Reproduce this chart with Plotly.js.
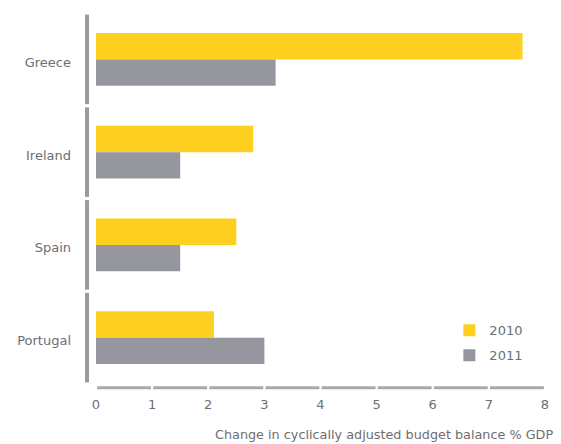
<!DOCTYPE html>
<html>
<head>
<meta charset="utf-8">
<script src="https://cdn.plot.ly/plotly-3.0.1.min.js"></script>
<style>html,body{margin:0;padding:0;background:#fff;}#chart{width:561px;height:444px;}</style>
</head>
<body>
<div id="chart"></div>
<script>
var countries = ["Greece", "Ireland", "Spain", "Portugal"];
var values2010 = [7.6, 2.8, 2.5, 2.1];
var values2011 = [3.2, 1.5, 1.5, 3.0];
var xTicks = [0, 1, 2, 3, 4, 5, 6, 7, 8];
var seriesNames = ["2010", "2011"];
var xTitle = "Change in cyclically adjusted budget balance % GDP";

var textColor = "#6d6e71";
var axisColor = "#9a9ba1";
var font = "'DejaVu Sans', sans-serif";

var traces = [
  {type: "bar", orientation: "h", name: seriesNames[0], y: countries, x: values2010,
   marker: {color: "#fdd01f"}, legendgroup: "a", hoverinfo: "x"},
  {type: "bar", orientation: "h", name: seriesNames[1], y: countries, x: values2011,
   marker: {color: "#96979e"}, legendgroup: "b", hoverinfo: "x"}
];

var shapes = [];
// segmented vertical axis, one segment per category
countries.forEach(function(c, i) {
  shapes.push({type: "line", xref: "paper", yref: "y", x0: -0.02, x1: -0.02,
    y0: i - 0.5 + 0.017, y1: i + 0.5 - 0.017, line: {color: axisColor, width: 4}});
});
// segmented horizontal axis, one segment per unit
for (var k = 0; k < xTicks.length - 1; k++) {
  shapes.push({type: "line", xref: "x", yref: "paper", x0: xTicks[k] + 0.02, x1: xTicks[k + 1] - 0.02,
    y0: -0.01, y1: -0.01, line: {color: "#a8a9ae", width: 3}});
}

var layout = {
  width: 561, height: 444,
  margin: {l: 96, r: 16, t: 12.5, b: 59.5},
  paper_bgcolor: "#ffffff", plot_bgcolor: "#ffffff",
  font: {family: font, size: 13, color: textColor},
  barmode: "group", bargap: 0.43, bargroupgap: 0,
  showlegend: true,
  legend: {x: 0.787, y: 0.185, xanchor: "left", yanchor: "top", traceorder: "grouped",
    tracegroupgap: 5, font: {family: font, size: 13, color: textColor}, bgcolor: "rgba(0,0,0,0)",
    itemwidth: 30},
  xaxis: {range: [0, 8], tickvals: xTicks, ticktext: xTicks.map(String), showgrid: false, zeroline: false,
    showline: false, ticks: "", ticklabelstandoff: 11, tickfont: {size: 13, color: textColor}, fixedrange: true},
  yaxis: {type: "category", categoryorder: "array", categoryarray: countries, range: [3.5, -0.5],
    showgrid: false, zeroline: false, showline: false, ticks: "", ticklabelstandoff: 24, ticklabelshift: -3,
    tickfont: {size: 13, color: textColor}, fixedrange: true},
  shapes: shapes,
  annotations: [{text: xTitle, xref: "paper", yref: "paper", x: 1.022, y: -0.135, xanchor: "right", yanchor: "middle",
    showarrow: false, font: {family: font, size: 12.8, color: textColor}}]
};

Plotly.newPlot("chart", traces, layout, {displayModeBar: false, staticPlot: true});
</script>
</body>
</html>
